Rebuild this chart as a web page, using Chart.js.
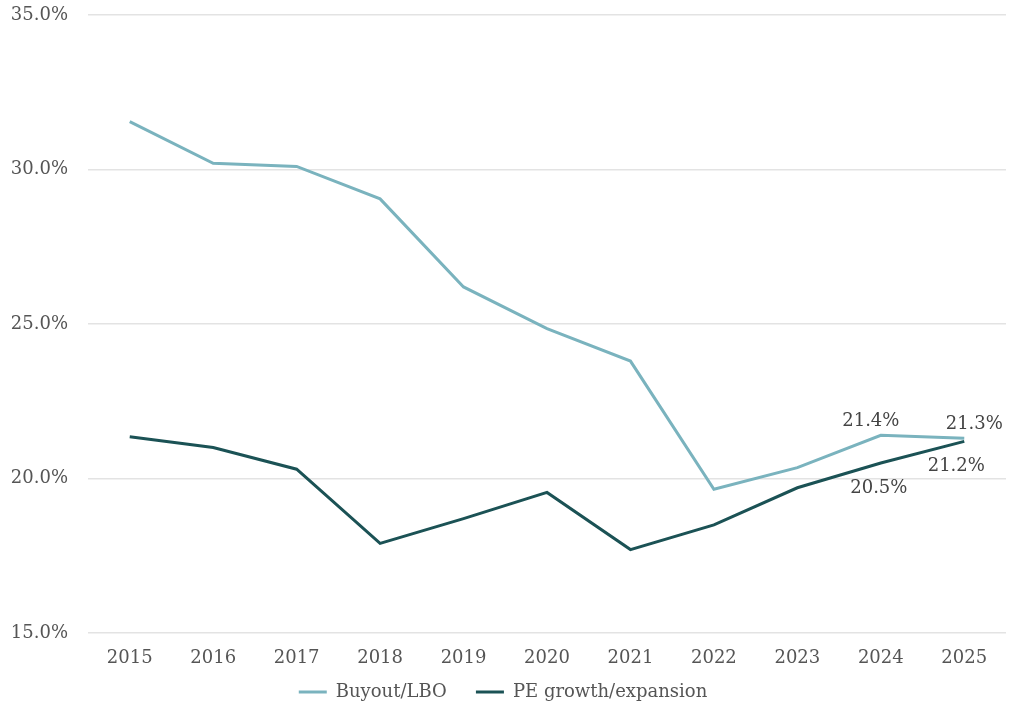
<!DOCTYPE html>
<html>
<head>
<meta charset="utf-8">
<script src="https://cdn.jsdelivr.net/npm/chart.js@4/dist/chart.umd.min.js"></script>
<style>
  html, body { margin: 0; padding: 0; background: #ffffff; }
  .wrap { width: 1024px; height: 716px; position: relative; }
</style>
</head>
<body>
<div class="wrap"><canvas id="lineChart"></canvas></div>
<script>
// --- Data ------------------------------------------------------
const years = ['2015', '2016', '2017', '2018', '2019', '2020', '2021', '2022', '2023', '2024', '2025'];
const buyout = [31.55, 30.2, 30.1, 29.05, 26.2, 24.85, 23.8, 19.65, 20.35, 21.4, 21.3];
const growth = [21.35, 21.0, 20.3, 17.9, 18.7, 19.55, 17.7, 18.5, 19.7, 20.5, 21.2];
const yTicks = [15, 20, 25, 30, 35];

const labelled = [9, 10]; // last two years carry value labels

// --- Small plugin for the end labels ---------------------------
const endLabels = {
  id: 'endLabels',
  afterDatasetsDraw(chart) {
    const ctx = chart.ctx;
    ctx.save();
    ctx.font = '18px Georgia, "DejaVu Serif", serif';
    ctx.fillStyle = '#444444';
    ctx.textAlign = 'center';
    ctx.textBaseline = 'middle';
    chart.data.datasets.forEach((ds, i) => {
      const meta = chart.getDatasetMeta(i);
      labelled.forEach(idx => {
        const pt = meta.data[idx];
        const dy = i === 0 ? -14 : 25;
        const dx = idx === 10 ? (i === 0 ? 10 : -8) : (i === 0 ? -10 : -2);
        ctx.fillText(ds.data[idx].toFixed(1) + '%', pt.x + dx, pt.y + dy);
      });
    });
    ctx.restore();
  }
};

Chart.defaults.font.family = 'Georgia, "DejaVu Serif", serif';
Chart.defaults.font.size = 18;
Chart.defaults.color = '#555555';

const defaultLabels = Chart.defaults.plugins.legend.labels.generateLabels;

new Chart(document.getElementById('lineChart'), {
  type: 'line',
  data: {
    labels: years,
    datasets: [
      {
        label: 'Buyout/LBO',
        data: buyout,
        borderColor: '#7ab3be',
        backgroundColor: '#7ab3be',
        borderWidth: 3,
        pointRadius: 0,
        tension: 0
      },
      {
        label: 'PE growth/expansion',
        data: growth,
        borderColor: '#1b5255',
        backgroundColor: '#1b5255',
        borderWidth: 3,
        pointRadius: 0,
        tension: 0
      }
    ]
  },
  plugins: [endLabels],
  options: {
    responsive: true,
    maintainAspectRatio: false,
    animation: false,
    layout: { padding: { top: 0, right: 18, left: 0, bottom: 5 } },
    plugins: {
      legend: {
        position: 'bottom',
        labels: {
          usePointStyle: true,
          pointStyle: 'line',
          pointStyleWidth: 28,
          boxHeight: 3,
          padding: 12,
          color: '#555555',
          // wider gap between the two entries, as in the reference
          generateLabels: (chart) => defaultLabels(chart).map((item, i) =>
            Object.assign(item, { text: i === 0 ? item.text + '\u00a0\u00a0\u00a0' : item.text }))
        }
      },
      tooltip: { enabled: false }
    },
    scales: {
      y: {
        min: 15,
        max: 35,
        afterBuildTicks: (axis) => { axis.ticks = yTicks.map(v => ({ value: v })); },
        afterFit: (axis) => { axis.width = 88; axis.paddingTop = 15; axis.paddingBottom = 0; },
        grid: { color: '#e3e3e3', lineWidth: 1.5, drawTicks: false },
        border: { display: false },
        ticks: {
          padding: 20,
          callback: (v) => v.toFixed(1) + '%'
        }
      },
      x: {
        offset: true,
        afterFit: (axis) => { axis.height = 38; },
        grid: { display: false, drawTicks: false },
        border: { display: false },
        ticks: { padding: 15 }
      }
    }
  }
});
</script>
</body>
</html>
